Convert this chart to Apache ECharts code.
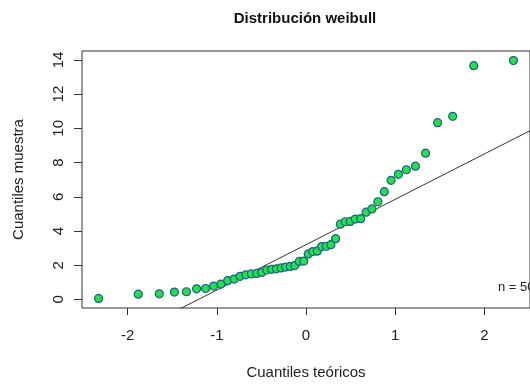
<!DOCTYPE html>
<html>
<head>
<meta charset="utf-8">
<script src="https://cdn.jsdelivr.net/npm/echarts@6/dist/echarts.min.js"></script>
<style>
  html, body { margin: 0; padding: 0; background: #fff; }
  #chart { width: 530px; height: 385px; }
</style>
</head>
<body>
<div id="chart"></div>
<script>
const FONT = '"Liberation Sans", Arial, Helvetica, sans-serif';

// theoretical normal quantiles (n = 50)
const teoricos = [
  -2.326, -1.881, -1.645, -1.476, -1.341, -1.227, -1.126, -1.036, -0.954, -0.878,
  -0.806, -0.739, -0.674, -0.613, -0.553, -0.496, -0.440, -0.385, -0.332, -0.279,
  -0.228, -0.176, -0.126, -0.075, -0.025, 0.025, 0.075, 0.126, 0.176, 0.228,
  0.279, 0.332, 0.385, 0.440, 0.496, 0.553, 0.613, 0.674, 0.739, 0.806,
  0.878, 0.954, 1.036, 1.126, 1.227, 1.341, 1.476, 1.645, 1.881, 2.326
];

// sorted sample values
const muestra = [
  0.06, 0.31, 0.33, 0.43, 0.45, 0.62, 0.64, 0.78, 0.90, 1.10,
  1.19, 1.35, 1.44, 1.49, 1.52, 1.58, 1.72, 1.76, 1.79, 1.84,
  1.89, 1.93, 1.98, 2.22, 2.24, 2.66, 2.80, 2.82, 3.09, 3.11,
  3.20, 3.55, 4.40, 4.54, 4.56, 4.70, 4.72, 5.10, 5.29, 5.71,
  6.30, 6.96, 7.31, 7.58, 7.79, 8.55, 10.33, 10.70, 13.66, 13.96
];

// qqline endpoints (reference line through the quartiles)
const lineaX = [-2.512, 2.512];
const lineaY = [-3.46, 9.86];

const xTicks = [-2, -1, 0, 1, 2];
const yTicks = [0, 2, 4, 6, 8, 10, 12, 14];

const chart = echarts.init(document.getElementById('chart'), null, { renderer: 'canvas' });

chart.setOption({
  animation: false,
  title: {
    text: 'Distribución weibull',
    left: 300, top: 6, textAlign: 'center',
    textStyle: { fontFamily: FONT, fontSize: 15, fontWeight: 'bold', color: '#111' }
  },
  grid: {
    left: 82, top: 51, width: 455, height: 259,
    show: true, borderColor: '#333', borderWidth: 1, backgroundColor: '#fff'
  },
  xAxis: {
    type: 'value', min: -2.512, max: 2.512, position: 'bottom',
    name: 'Cuantiles teóricos', nameLocation: 'middle', nameGap: 57,
    nameTextStyle: { fontFamily: FONT, fontSize: 15, color: '#222' },
    axisLine: { show: false, onZero: false },
    splitLine: { show: false },
    axisTick: { show: true, length: 7, customValues: xTicks, lineStyle: { color: '#333' } },
    axisLabel: { customValues: xTicks, margin: 20, fontFamily: FONT, fontSize: 15, color: '#222' }
  },
  yAxis: {
    type: 'value', min: -0.5, max: 14.52, position: 'left',
    name: 'Cuantiles muestra', nameLocation: 'middle', nameGap: 56,
    nameTextStyle: { fontFamily: FONT, fontSize: 15, color: '#222' },
    axisLine: { show: false, onZero: false },
    splitLine: { show: false },
    axisTick: { show: true, length: 8, customValues: yTicks, lineStyle: { color: '#333' } },
    axisLabel: { customValues: yTicks, rotate: 90, margin: 16, fontFamily: FONT, fontSize: 15, color: '#222' }
  },
  graphic: [{
    type: 'text', left: 498, top: 281,
    style: { text: 'n = 50', font: '13px ' + FONT, fill: '#222' }
  }],
  series: [
    {
      type: 'line',
      data: lineaX.map((x, i) => [x, lineaY[i]]),
      symbol: 'none', clip: true,
      lineStyle: { color: '#333', width: 1 },
      z: 1
    },
    {
      type: 'scatter',
      data: teoricos.map((x, i) => [x, muestra[i]]),
      symbol: 'circle', symbolSize: 8,
      itemStyle: { color: '#22e14c', borderColor: '#1d5f86', borderWidth: 1.2, opacity: 1 },
      z: 2
    }
  ]
});
</script>
</body>
</html>
